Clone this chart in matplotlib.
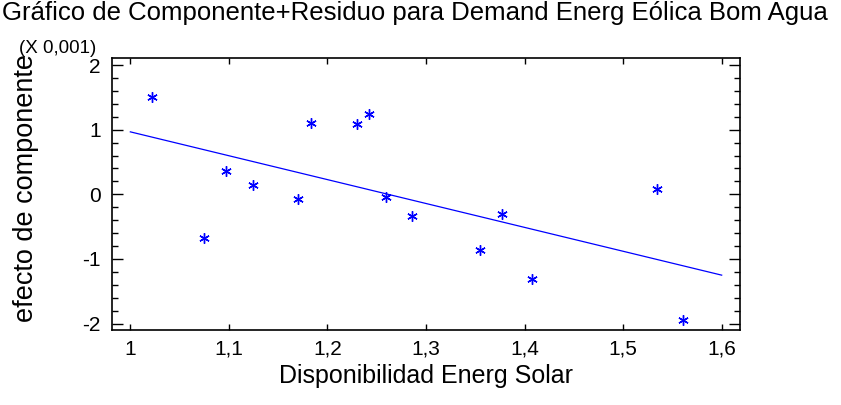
import numpy as np
import matplotlib.pyplot as plt
from matplotlib.ticker import FuncFormatter, MultipleLocator

plt.rcParams['font.family'] = ['Liberation Sans', 'DejaVu Sans']

# componente+residuo (x 0,001)
solar = [1.022, 1.075, 1.0975, 1.1246, 1.170, 1.1834, 1.2298, 1.2419,
         1.2599, 1.286, 1.3546, 1.3774, 1.4078, 1.5347, 1.5607]
efecto = [1.509, -0.673, 0.364, 0.147, -0.070, 1.098, 1.082, 1.246,
          -0.048, -0.333, -0.864, -0.311, -1.313, 0.080, -1.952]
line_x = [1.0, 1.6]
line_y = [0.967, -1.251]

fig = plt.figure(figsize=(8.41, 4.05), dpi=100)
ax = fig.add_axes([112 / 841, 75 / 405, 628 / 841, 272 / 405])

ax.plot(line_x, line_y, color='#0000ff', lw=0.9)
ax.plot(solar, efecto, ls='none', marker=(6, 2, 0), ms=7.5, mew=1.0,
        color='#0000ff')

ax.set_xlim(0.9814, 1.6186)
ax.set_ylim(-2.10, 2.11)

ax.xaxis.set_major_locator(MultipleLocator(0.1))
ax.yaxis.set_major_locator(MultipleLocator(1))
ax.yaxis.set_minor_locator(MultipleLocator(0.2))


def coma(v, pos):
    s = ('%.1f' % v).rstrip('0').rstrip('.')
    if s == '-0':
        s = '0'
    return s.replace('.', ',')


ax.xaxis.set_major_formatter(FuncFormatter(coma))
ax.yaxis.set_major_formatter(FuncFormatter(coma))

ax.tick_params(which='both', direction='in', top=True, right=True,
               labelsize=15, width=1, color='black')
ax.tick_params(axis='x', which='major', length=4, pad=7)
ax.tick_params(axis='y', which='major', length=8, pad=8)
ax.tick_params(axis='y', which='minor', length=4)
for s in ax.spines.values():
    s.set_linewidth(1.2)

ax.set_xlabel('Disponibilidad Energ Solar', fontsize=18, labelpad=4)
ax.set_ylabel('efecto de componente', fontsize=19.5)
ax.yaxis.set_label_coords(-0.117, 0.522)

fig.text(2 / 841, 1 - 1 / 405,
         'Gráfico de Componente+Residuo para Demand Energ Eólica Bom Agua',
         fontsize=18.5, ha='left', va='top')
fig.text(19 / 841, 1 - 57 / 405, '(X 0,001)', fontsize=13.5, ha='left',
         va='bottom')

fig.savefig('out.png', dpi=100)
